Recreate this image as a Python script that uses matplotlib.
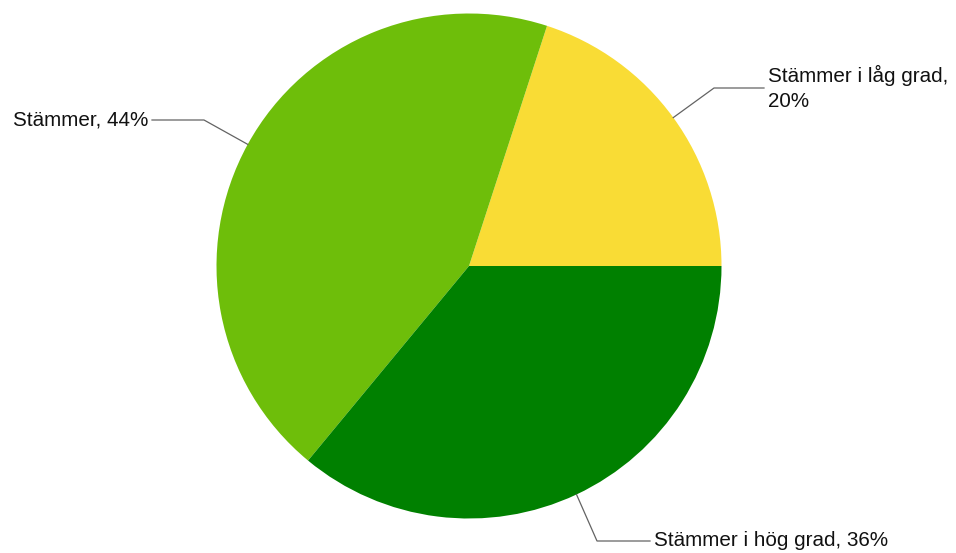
import matplotlib
matplotlib.use('Agg')
import matplotlib.pyplot as plt
import numpy as np

plt.rcParams['font.family'] = ['Liberation Sans', 'DejaVu Sans']

# slice data
labels = ['Stämmer i låg grad', 'Stämmer', 'Stämmer i hög grad']
shares = [20, 44, 36]
colors = ['#f9dc35', '#6ebe0a', '#008000']

W, H = 956, 553
fig = plt.figure(figsize=(W / 100, H / 100), dpi=100)
ax = fig.add_axes([0, 0, 1, 1])

cx, cy, r = 469, H - 266, 252.5

wedges, _ = ax.pie(shares, colors=colors, startangle=0, counterclock=True,
                   center=(cx, cy), radius=r, frame=True,
                   wedgeprops=dict(linewidth=0))
ax.set_xlim(0, W)
ax.set_ylim(0, H)
ax.axis('off')

# elbow points and text anchors for each label (layout, pixel coords)
elbows = [(714, H - 88), (204, H - 120), (597, H - 541)]
ends = [(764, H - 88), (152, H - 120), (650, H - 541)]
texts = ['Stämmer i låg grad,\n20%', 'Stämmer, 44%', 'Stämmer i hög grad, 36%']
aligns = ['left', 'right', 'left']

for w, el, en, txt, ha in zip(wedges, elbows, ends, texts, aligns):
    mid = np.deg2rad((w.theta1 + w.theta2) / 2)
    sx = cx + r * np.cos(mid)
    sy = cy + r * np.sin(mid)
    ax.plot([sx, el[0], en[0]], [sy, el[1], en[1]], color='#636363', lw=0.9)
    tx = en[0] + 4 if ha == 'left' else en[0] - 4
    ax.text(tx, en[1], txt, ha=ha, va='center', fontsize=14.9,
            color='#111111', linespacing=1.4)

fig.savefig('out.png', dpi=100)
